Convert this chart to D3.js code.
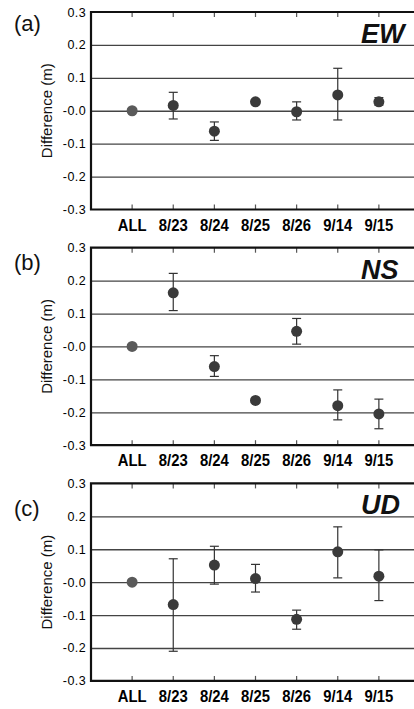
<!DOCTYPE html>
<html>
<head>
<meta charset="utf-8">
<script src="https://cdn.jsdelivr.net/npm/d3@7"></script>
<style>
  html, body { margin: 0; padding: 0; background: #fff; }
  svg { display: block; font-family: "Liberation Sans", Arial, sans-serif; }
</style>
</head>
<body>
<svg id="chart" width="414" height="709"></svg>
<script>
// ---- data ----
const categories = ["ALL", "8/23", "8/24", "8/25", "8/26", "9/14", "9/15"];
const yTickValues = [0.3, 0.2, 0.1, 0.0, -0.1, -0.2, -0.3];
const yTickLabels = ["0.3", "0.2", "0.1", "-0.0", "-0.1", "-0.2", "-0.3"];
const gridValues = [0.2, 0.1, 0.0, -0.1, -0.2];

const panelLetters = ["(a)", "(b)", "(c)"];
const panelNames = ["EW", "NS", "UD"];

const ewValue = [0, 0.016, -0.062, 0.027, -0.003, 0.048, 0.027];
const ewLow   = [null, -0.025, -0.090, 0.021, -0.028, -0.028, 0.017];
const ewHigh  = [null, 0.056, -0.034, 0.033, 0.027, 0.129, 0.040];

const nsValue = [0, 0.163, -0.061, -0.164, 0.046, -0.180, -0.205];
const nsLow   = [null, 0.109, -0.091, -0.170, 0.007, -0.223, -0.250];
const nsHigh  = [null, 0.222, -0.028, -0.158, 0.085, -0.132, -0.160];

const udValue = [0, -0.068, 0.052, 0.011, -0.113, 0.092, 0.018];
const udLow   = [null, -0.210, -0.006, -0.030, -0.143, 0.013, -0.056];
const udHigh  = [null, 0.071, 0.109, 0.054, -0.085, 0.168, 0.098];

const series = [
  { value: ewValue, low: ewLow, high: ewHigh },
  { value: nsValue, low: nsLow, high: nsHigh },
  { value: udValue, low: udLow, high: udHigh }
];

// ---- layout ----
const svg = d3.select("#chart");
const plotLeft = 91, plotRight = 420;
const firstTop = 12, panelPitch = 235.7, plotH = 197.5;
const letterDy = [11, 15, 25];

const x = d3.scalePoint().domain(categories).range([plotLeft, plotRight]).padding(1);

series.forEach((s, i) => {
  const top = firstTop + i * panelPitch;
  const y = d3.scaleLinear().domain([-0.3, 0.3]).range([top + plotH, top]);
  const g = svg.append("g");

  // grid lines
  g.append("g")
    .attr("transform", `translate(${plotLeft},0)`)
    .call(d3.axisLeft(y).tickValues(gridValues).tickSize(-(plotRight - plotLeft)).tickFormat(""))
    .call(a => a.select(".domain").remove())
    .call(a => a.selectAll(".tick line").attr("stroke", "#444").attr("stroke-width", 1.3));

  // y tick labels
  g.append("g")
    .attr("transform", `translate(${plotLeft},0)`)
    .call(d3.axisLeft(y).tickValues(yTickValues).tickSize(0).tickPadding(5)
      .tickFormat((d, k) => yTickLabels[k]))
    .call(a => a.select(".domain").remove())
    .call(a => a.selectAll("text").attr("font-size", 12.5).attr("fill", "#000")
      .attr("font-family", "'Liberation Sans', Arial, sans-serif").attr("letter-spacing", 0.4));

  // category tick marks (inner, top and bottom)
  g.append("g").selectAll("line.tt").data(categories).join("line")
    .attr("x1", d => x(d)).attr("x2", d => x(d))
    .attr("y1", top).attr("y2", top + 5)
    .attr("stroke", "#555").attr("stroke-width", 1.2);
  g.append("g").selectAll("line.bt").data(categories).join("line")
    .attr("x1", d => x(d)).attr("x2", d => x(d))
    .attr("y1", top + plotH).attr("y2", top + plotH - 5)
    .attr("stroke", "#555").attr("stroke-width", 1.2);

  // frame: top, left, bottom
  g.append("path")
    .attr("d", `M${plotRight},${top}H${plotLeft}V${top + plotH}H${plotRight}`)
    .attr("fill", "none").attr("stroke", "#111").attr("stroke-width", 2.2);

  // category labels
  g.append("g").selectAll("text").data(categories).join("text")
    .attr("transform", d => `translate(${x(d)},${top + plotH + 21}) scale(0.9,1)`)
    .attr("text-anchor", "middle")
    .attr("font-size", 16.5).attr("font-weight", "bold").attr("fill", "#000")
    .text(d => d);

  // y axis title
  g.append("text")
    .attr("transform", `translate(52,${top + plotH / 2}) rotate(-90)`)
    .attr("text-anchor", "middle")
    .attr("font-size", 15).attr("fill", "#111")
    .text("Difference (m)");

  // panel letter
  g.append("text")
    .attr("x", 14).attr("y", top + letterDy[i])
    .attr("dy", "0.35em")
    .attr("font-size", 22).attr("fill", "#111")
    .text(panelLetters[i]);

  // component name
  g.append("text")
    .attr("x", 361).attr("y", top + 31)
    .attr("font-size", 27).attr("font-weight", "bold").attr("font-style", "italic")
    .attr("fill", "#111")
    .text(panelNames[i]);

  // error bars
  const pts = categories.map((c, k) => ({ c, v: s.value[k], lo: s.low[k], hi: s.high[k] }));
  const eb = g.append("g").selectAll("g").data(pts.filter(p => p.lo !== null)).join("g")
    .attr("stroke", "#333").attr("stroke-width", 1.2);
  eb.append("line")
    .attr("x1", p => x(p.c)).attr("x2", p => x(p.c))
    .attr("y1", p => y(p.lo)).attr("y2", p => y(p.hi));
  eb.append("line")
    .attr("x1", p => x(p.c) - 4.5).attr("x2", p => x(p.c) + 4.5)
    .attr("y1", p => y(p.hi)).attr("y2", p => y(p.hi));
  eb.append("line")
    .attr("x1", p => x(p.c) - 4.5).attr("x2", p => x(p.c) + 4.5)
    .attr("y1", p => y(p.lo)).attr("y2", p => y(p.lo));

  // points
  g.append("g").selectAll("circle").data(pts).join("circle")
    .attr("cx", p => x(p.c)).attr("cy", p => y(p.v))
    .attr("r", 5.5)
    .attr("fill", p => p.c === "ALL" ? "#5a5a5a" : "#3a3a3a");
});
</script>
</body>
</html>
